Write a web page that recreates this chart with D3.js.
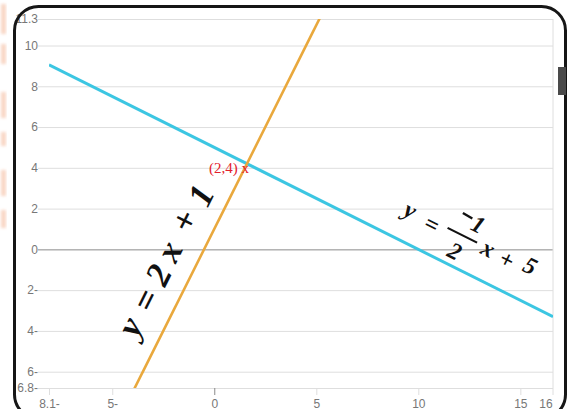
<!DOCTYPE html>
<html>
<head>
<meta charset="utf-8">
<script src="https://cdn.jsdelivr.net/npm/d3@7"></script>
<style>
  body { margin: 0; background: #fff; }
  svg { display: block; }
</style>
</head>
<body>
<svg id="chart" width="577" height="409"></svg>
<script>
// Visible window of the coordinate plane
const xDomain = [-8.1, 16.6];
const yDomain = [-6.8, 11.3];

// Tick positions and the labels shown for them
const xTickValues = [-8.1, -5, 0, 5, 10, 15, 16];
const xTickLabels = ["8.1-", "5-", "0", "5", "10", "15", "16"];
const yTickValues = [11.3, 10, 8, 6, 4, 2, 0, -2, -4, -6, -6.8];
const yTickLabels = ["11.3", "10", "8", "6", "4", "2", "0", "2-", "4-", "6-", "6.8-"];

// The two lines, y = m x + b
const lineSlopes = [-0.5, 2];
const lineIntercepts = [5, 1];
const lineColors = ["#3cc6e2", "#e9a83c"];

// Marked point label
const pointLabel = "(2,4) x";

const svg = d3.select("#chart");
const plot = { left: 49, right: 553, top: 19, bottom: 388 };

const x = d3.scaleLinear().domain(xDomain).range([plot.left, plot.right]);
const y = d3.scaleLinear().domain(yDomain).range([plot.bottom, plot.top]);

const defs = svg.append("defs");
defs.append("clipPath").attr("id", "plotClip")
  .append("rect")
  .attr("x", plot.left).attr("y", plot.top)
  .attr("width", plot.right - plot.left).attr("height", plot.bottom - plot.top);
defs.append("filter").attr("id", "soft")
  .append("feGaussianBlur").attr("stdDeviation", 1.4);

// faint smudges on the far left edge
const smudges = svg.append("g").attr("opacity", 0.4).attr("filter", "url(#soft)");
[[4, 30], [44, 20], [92, 26], [132, 14], [170, 26], [210, 18]].forEach(([y0, h]) => {
  smudges.append("rect").attr("x", 1).attr("y", y0).attr("width", 5).attr("height", h)
    .attr("fill", "#ef9a70");
});

// Horizontal grid + y axis labels
const yAxis = d3.axisLeft(y)
  .tickValues(yTickValues)
  .tickFormat((d, i) => yTickLabels[i])
  .tickSizeInner(-(plot.right - plot.left))
  .tickSizeOuter(0)
  .tickPadding(14);
const gy = svg.append("g").attr("transform", `translate(${plot.left},0)`).call(yAxis);
gy.select(".domain").remove();
gy.selectAll(".tick line")
  .attr("x1", -11)
  .attr("stroke", d => d === 0 ? "#8a8a8a" : "#dedede")
  .attr("stroke-width", 1);
gy.selectAll(".tick text")
  .attr("x", -11)
  .attr("fill", "#777")
  .style("font-family", "Liberation Sans, Arial, sans-serif")
  .style("font-size", "12px");

// Vertical grid + x axis labels
const xAxis = d3.axisBottom(x)
  .tickValues(xTickValues)
  .tickFormat((d, i) => xTickLabels[i])
  .tickSizeInner(-(plot.bottom - plot.top))
  .tickSizeOuter(0)
  .tickPadding(12);
const gx = svg.append("g").attr("transform", `translate(0,${plot.bottom})`).call(xAxis);
gx.select(".domain").remove();
gx.selectAll(".tick line")
  .attr("y2", 7)
  .attr("stroke", d => d === 0 ? "#8a8a8a" : "#dedede")
  .attr("stroke-width", 1)
  .attr("opacity", d => d === 16 ? 0 : 1);
gx.selectAll(".tick text")
  .attr("y", 11)
  .attr("dy", "0.71em")
  .attr("text-anchor", d => d === 16 ? "start" : "middle")
  .attr("dx", d => d === 16 ? -2 : 0)
  .attr("fill", "#777")
  .style("font-family", "Liberation Sans, Arial, sans-serif")
  .style("font-size", "12px");

// right edge of the grid
svg.append("line")
  .attr("x1", x(xDomain[1])).attr("x2", x(xDomain[1]))
  .attr("y1", plot.top).attr("y2", plot.bottom + 7)
  .attr("stroke", "#dedede");

// The two lines
const lines = svg.append("g").attr("clip-path", "url(#plotClip)");
lineSlopes.forEach((m, i) => {
  const b = lineIntercepts[i];
  const pts = xDomain.map(v => [v, m * v + b]);
  lines.append("path")
    .attr("d", d3.line().x(d => x(d[0])).y(d => y(d[1]))(pts))
    .attr("fill", "none")
    .attr("stroke", lineColors[i])
    .attr("stroke-width", i === 0 ? 3 : 2.6);
});

// Intersection label
const ix = (lineIntercepts[1] - lineIntercepts[0]) / (lineSlopes[0] - lineSlopes[1]);
const iy = lineSlopes[0] * ix + lineIntercepts[0];
svg.append("text")
  .attr("x", x(ix) + 2)
  .attr("y", y(iy) + 9)
  .attr("text-anchor", "end")
  .attr("fill", "#e3202c")
  .style("font-family", "Liberation Serif, Times New Roman, serif")
  .style("font-size", "15px")
  .text(pointLabel);

const mathFont = "Liberation Serif, Times New Roman, serif";
const angleOf = m => -Math.atan(m) * 180 / Math.PI;

// glyph helper: [text, x along, baseline, italic, size]
function glyphs(g, list) {
  list.forEach(([t, ax, by, it, fs]) => {
    const el = g.append("text")
      .attr("x", ax).attr("y", by)
      .attr("text-anchor", "middle")
      .style("font-weight", "bold")
      .style("font-style", it ? "italic" : "normal")
      .text(t);
    if (fs) el.style("font-size", fs + "px");
  });
}

// Equation of the steep line, written along it
const eqB = svg.append("g")
  .attr("transform", `translate(${x(-3.8)},${y(-3.95)}) rotate(${angleOf(lineSlopes[1])})`)
  .style("font-family", mathFont)
  .style("font-size", "35px")
  .attr("fill", "#111");
glyphs(eqB, [
  ["y", 0, 4, true], ["=", 31, 6.5, false], ["2", 59, 6.5, true],
  ["x", 85, 5.5, true], ["+", 119, 5.5, false], ["1", 149, 9, true]
]);

// Equation of the shallow line, written along it
const eqOrigin = [x(9.18), y(1.59)];
const eqAngle = angleOf(lineSlopes[0]);
const eqA = svg.append("g")
  .attr("transform", `translate(${eqOrigin[0]},${eqOrigin[1]}) rotate(${eqAngle})`)
  .style("font-family", mathFont)
  .style("font-size", "24px")
  .attr("fill", "#111");
glyphs(eqA, [
  ["y", 4.7, -2.2, true], ["=", 30.4, 1, false],
  ["1", 71.8, -19.5, true],
  ["2", 62.8, 15, true], ["x", 91.6, -2.4, true],
  ["+", 113.3, -1, false], ["5", 136.8, -5.8, true]
]);

// raised minus of the numerator and the fraction bar, placed in page space
const rad = eqAngle * Math.PI / 180;
const toPage = ([lx, ly]) => [
  eqOrigin[0] + lx * Math.cos(rad) - ly * Math.sin(rad),
  eqOrigin[1] + lx * Math.sin(rad) + ly * Math.cos(rad)
];
[[[53, -31], [64, -30.2], 2.4], [[46, -10.8], [79, -10.8], 2.2]].forEach(([a, b, w]) => {
  const p = toPage(a), q = toPage(b);
  svg.append("line")
    .attr("x1", p[0]).attr("y1", p[1]).attr("x2", q[0]).attr("y2", q[1])
    .attr("stroke", "#111").attr("stroke-width", w);
});

// Rounded frame around the graph
svg.append("rect")
  .attr("x", 14.5).attr("y", 6.5)
  .attr("width", 551).attr("height", 412)
  .attr("rx", 24).attr("ry", 24)
  .attr("fill", "none")
  .attr("stroke", "#161616")
  .attr("stroke-width", 3);

// small tab on the right edge
svg.append("rect")
  .attr("x", 558).attr("y", 67).attr("width", 8).attr("height", 28)
  .attr("fill", "#4a4a4a");
</script>
</body>
</html>
